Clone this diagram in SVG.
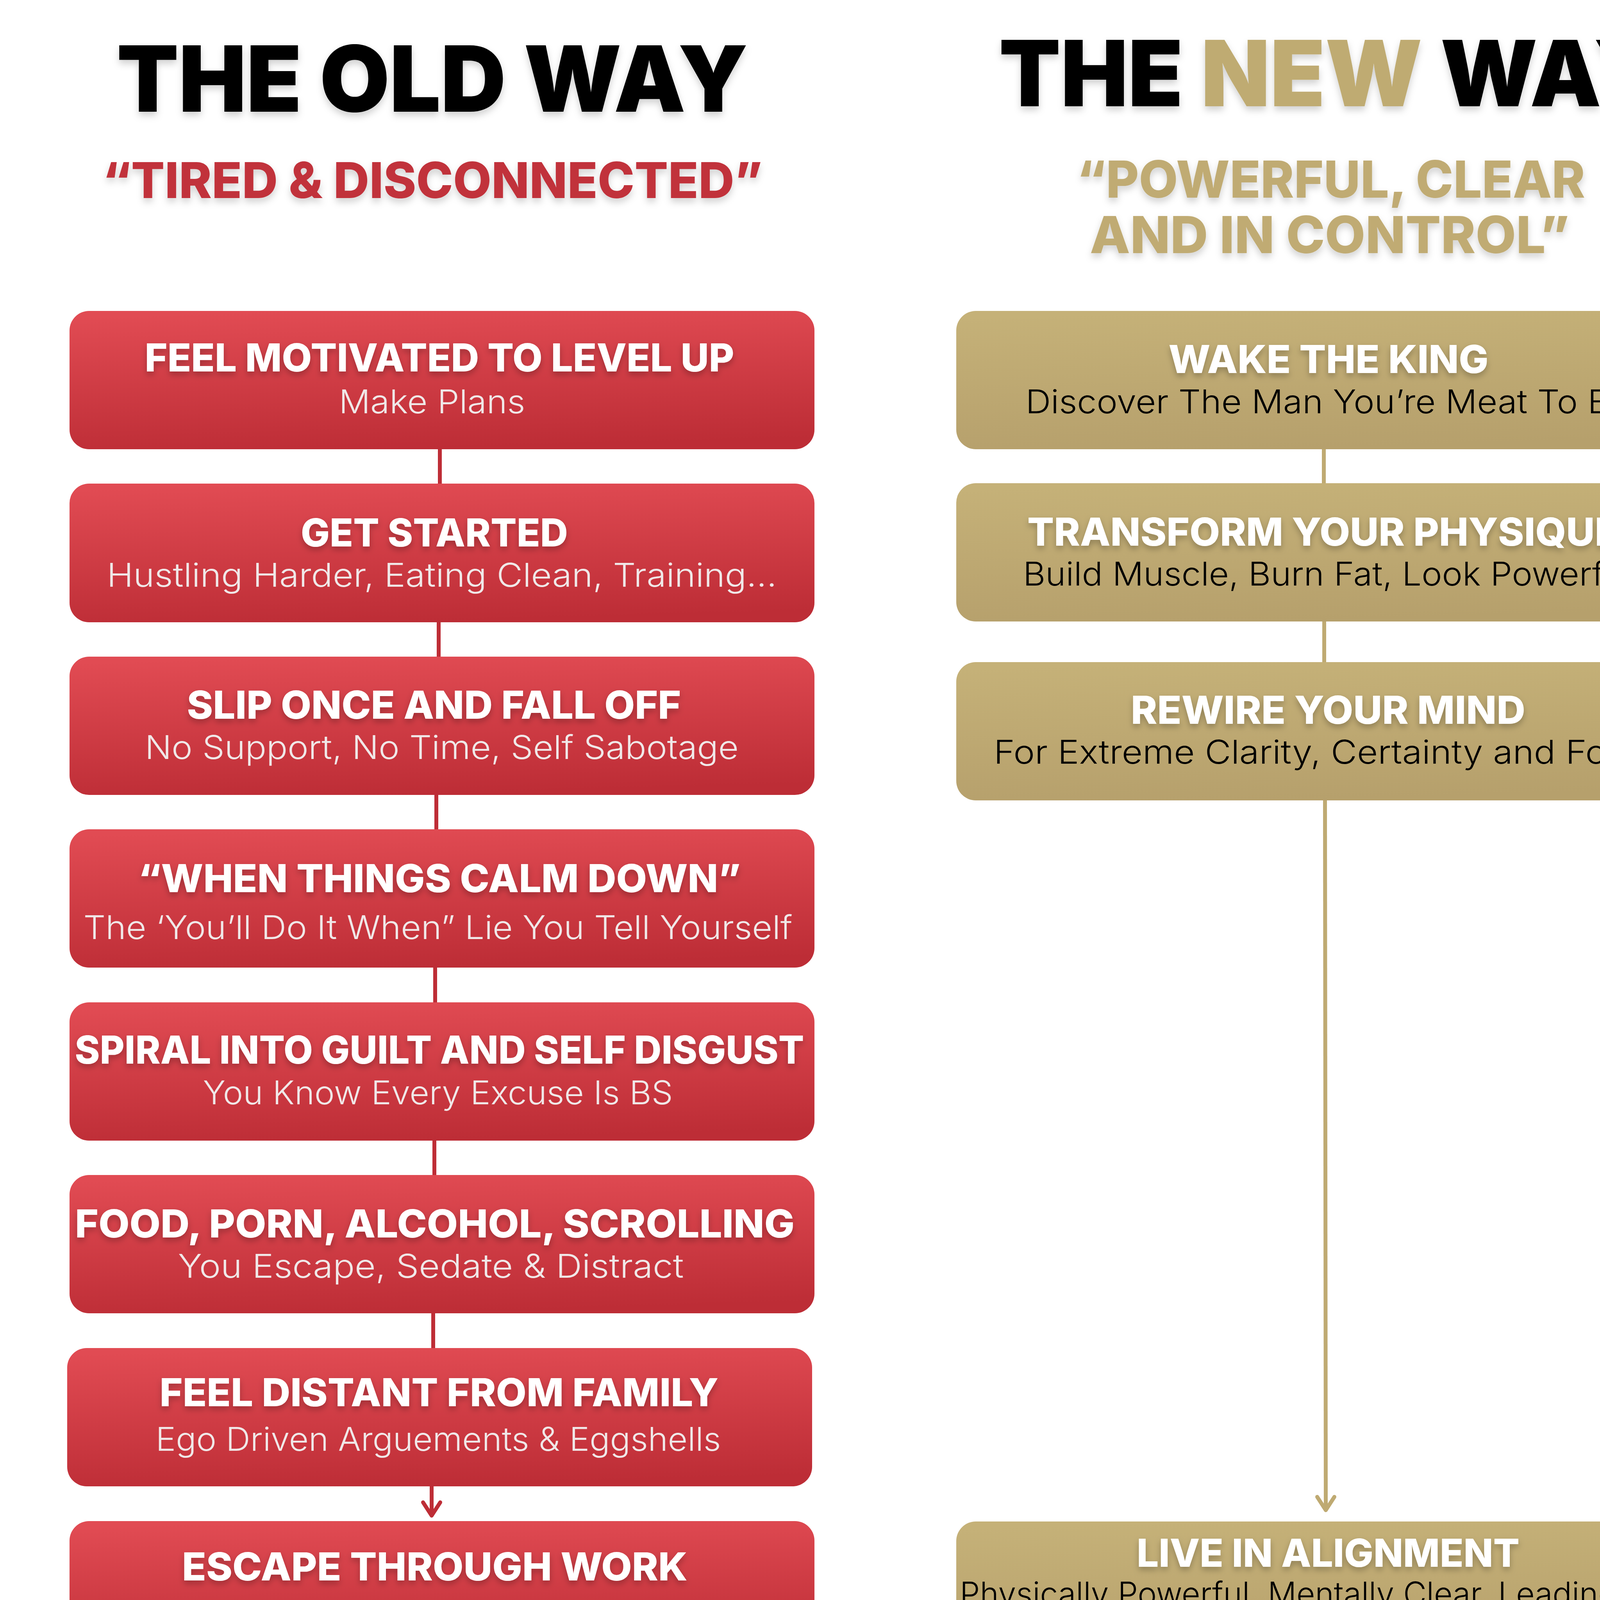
<svg xmlns="http://www.w3.org/2000/svg" width="4531" height="4687" viewBox="0 0 4531 4687">
<defs>
<linearGradient id="gRed" x1="0.3" y1="0" x2="0.45" y2="1">
<stop offset="0" stop-color="#E14B53"/>
<stop offset="1" stop-color="#BD2D36"/>
</linearGradient>
<linearGradient id="gGold" x1="0.3" y1="0" x2="0.45" y2="1">
<stop offset="0" stop-color="#C5B178"/>
<stop offset="1" stop-color="#B6A06C"/>
</linearGradient>
<filter id="tsh" x="-10%" y="-30%" width="120%" height="170%">
<feDropShadow dx="0" dy="8" stdDeviation="8" flood-color="#000" flood-opacity="0.25"/>
</filter>
<filter id="hsh" x="-10%" y="-30%" width="120%" height="170%">
<feDropShadow dx="0" dy="10" stdDeviation="9" flood-color="#000" flood-opacity="0.18"/>
</filter>
<marker id="arRed" markerUnits="userSpaceOnUse" markerWidth="60" markerHeight="60" refX="30" refY="48" orient="auto-start-reverse" viewBox="0 0 60 60">
<path d="M8 12 L30 48 L52 12" fill="none" stroke="#BE2D36" stroke-width="10" stroke-linecap="round" stroke-linejoin="round" transform="rotate(-90 30 30)"/>
</marker>
</defs>
<style>
.head{font-family:Inter,"Liberation Sans",sans-serif;font-weight:900;text-anchor:middle}
.quote{font-family:Inter,"Liberation Sans",sans-serif;font-weight:800;text-anchor:middle}
.bt{font-family:Inter,"Liberation Sans",sans-serif;font-weight:800;font-size:99px;fill:#FFFFFF;text-anchor:middle}
.st{font-family:Inter,"Liberation Sans",sans-serif;font-weight:300;font-size:84px;text-anchor:middle}
.stR{fill:#F0E8E8}
.stG{fill:#000000}
.red{fill:url(#gRed)}
.gold{fill:url(#gGold)}
.cR{stroke:#BE2D36;stroke-width:10;fill:none}
.cG{stroke:#BFAA72;stroke-width:10;fill:none}
</style>
<rect width="4531" height="4687" fill="#FFFFFF"/>

<g id="headings">
<text class="head" x="1107" y="286" font-size="234" fill="#000" textLength="1616" lengthAdjust="spacingAndGlyphs" filter="url(#hsh)">THE OLD WAY</text>
<text class="head" x="3408" y="272" font-size="234" fill="#000" textLength="1701" lengthAdjust="spacingAndGlyphs" filter="url(#hsh)">THE <tspan fill="#BFAB72">NEW</tspan> WAY</text>
<text class="quote" x="1107" y="507" font-size="127" fill="#C1303A" textLength="1690" lengthAdjust="spacingAndGlyphs" filter="url(#hsh)">“TIRED &amp; DISCONNECTED”</text>
<text class="quote" x="3407" y="506" font-size="131" fill="#C0AB73" textLength="1302" lengthAdjust="spacingAndGlyphs" filter="url(#hsh)">“POWERFUL, CLEAR</text>
<text class="quote" x="3404" y="648" font-size="131" fill="#C0AB73" textLength="1228" lengthAdjust="spacingAndGlyphs" filter="url(#hsh)">AND IN CONTROL”</text>
</g>

<g id="connectors">
<line class="cR" x1="1126" y1="1149" x2="1126" y2="1238"/>
<line class="cR" x1="1123" y1="1593" x2="1123" y2="1681"/>
<line class="cR" x1="1117" y1="2035" x2="1117" y2="2123"/>
<line class="cR" x1="1114" y1="2477" x2="1114" y2="2566"/>
<line class="cR" x1="1112" y1="2920" x2="1112" y2="3008"/>
<line class="cR" x1="1109" y1="3362" x2="1109" y2="3451"/>
<line class="cR" x1="1105" y1="3805" x2="1105" y2="3880"/>
<path class="cR" d="M1083 3846 L1105 3880 L1127 3846" stroke-linecap="round" stroke-linejoin="round"/>
<line class="cG" x1="3389" y1="1149" x2="3389" y2="1237"/>
<line class="cG" x1="3390" y1="1591" x2="3390" y2="1695"/>
<line class="cG" x1="3392" y1="2049" x2="3394" y2="3865"/>
<path class="cG" d="M3372 3832 L3394 3866 L3416 3832" stroke-linecap="round" stroke-linejoin="round"/>
</g>

<g id="old1">
<rect class="red" x="178" y="796" width="1907" height="354" rx="50"/>
<text class="bt" x="1125" y="951" textLength="1509" lengthAdjust="spacingAndGlyphs" filter="url(#tsh)">FEEL MOTIVATED TO LEVEL UP</text>
<text class="st stR" x="1106" y="1058" textLength="477" lengthAdjust="spacingAndGlyphs">Make Plans</text>
</g>
<g id="old2">
<rect class="red" x="178" y="1238" width="1907" height="355" rx="50"/>
<text class="bt" x="1112" y="1399" textLength="684" lengthAdjust="spacingAndGlyphs" filter="url(#tsh)">GET STARTED</text>
<text class="st stR" x="1131" y="1502" textLength="1715" lengthAdjust="spacingAndGlyphs">Hustling Harder, Eating Clean, Training...</text>
</g>
<g id="old3">
<rect class="red" x="178" y="1681" width="1907" height="354" rx="50"/>
<text class="bt" x="1111" y="1840" textLength="1265" lengthAdjust="spacingAndGlyphs" filter="url(#tsh)">SLIP ONCE AND FALL OFF</text>
<text class="st stR" x="1131" y="1943" textLength="1520" lengthAdjust="spacingAndGlyphs">No Support, No Time, Self Sabotage</text>
</g>
<g id="old4">
<rect class="red" x="178" y="2123" width="1907" height="354" rx="50"/>
<text class="bt" x="1125" y="2284" textLength="1543" lengthAdjust="spacingAndGlyphs" filter="url(#tsh)">“WHEN THINGS CALM DOWN”</text>
<text class="st stR" x="1121" y="2404" textLength="1815" lengthAdjust="spacingAndGlyphs">The ‘You’ll Do It When” Lie You Tell Yourself</text>
</g>
<g id="old5">
<rect class="red" x="178" y="2566" width="1907" height="354" rx="50"/>
<text class="bt" x="1125" y="2723" textLength="1867" lengthAdjust="spacingAndGlyphs" filter="url(#tsh)">SPIRAL INTO GUILT AND SELF DISGUST</text>
<text class="st stR" x="1121" y="2827" textLength="1203" lengthAdjust="spacingAndGlyphs">You Know Every Excuse Is BS</text>
</g>
<g id="old6">
<rect class="red" x="178" y="3008" width="1907" height="354" rx="50"/>
<text class="bt" x="1113" y="3168" textLength="1842" lengthAdjust="spacingAndGlyphs" filter="url(#tsh)">FOOD, PORN, ALCOHOL, SCROLLING</text>
<text class="st stR" x="1103" y="3271" textLength="1295" lengthAdjust="spacingAndGlyphs">You Escape, Sedate &amp; Distract</text>
</g>
<g id="old7">
<rect class="red" x="172" y="3451" width="1907" height="354" rx="50"/>
<text class="bt" x="1124" y="3600" textLength="1431" lengthAdjust="spacingAndGlyphs" filter="url(#tsh)">FEEL DISTANT FROM FAMILY</text>
<text class="st stR" x="1122" y="3714" textLength="1447" lengthAdjust="spacingAndGlyphs">Ego Driven Arguements &amp; Eggshells</text>
</g>
<g id="old8">
<rect class="red" x="178" y="3894" width="1907" height="353" rx="50"/>
<text class="bt" x="1113" y="4046" textLength="1294" lengthAdjust="spacingAndGlyphs" filter="url(#tsh)">ESCAPE THROUGH WORK</text>
<text class="st stR" x="1102" y="4168" textLength="1117" lengthAdjust="spacingAndGlyphs">Unproductive &amp; Unfulfilled</text>
</g>

<g id="new1">
<rect class="gold" x="2448" y="796" width="1906" height="354" rx="50"/>
<text class="bt" x="3401" y="955" textLength="819" lengthAdjust="spacingAndGlyphs" filter="url(#tsh)">WAKE THE KING</text>
<text class="st stG" x="3400" y="1058" textLength="1549" lengthAdjust="spacingAndGlyphs">Discover The Man You’re Meat To Be</text>
</g>
<g id="new2">
<rect class="gold" x="2448" y="1237" width="1906" height="354" rx="50"/>
<text class="bt" x="3387" y="1397" textLength="1514" lengthAdjust="spacingAndGlyphs" filter="url(#tsh)">TRANSFORM YOUR PHYSIQUE</text>
<text class="st stG" x="3399" y="1499" textLength="1560" lengthAdjust="spacingAndGlyphs">Build Muscle, Burn Fat, Look Powerful</text>
</g>
<g id="new3">
<rect class="gold" x="2448" y="1695" width="1906" height="354" rx="50"/>
<text class="bt" x="3400" y="1853" textLength="1010" lengthAdjust="spacingAndGlyphs" filter="url(#tsh)">REWIRE YOUR MIND</text>
<text class="st stG" x="3405" y="1955" textLength="1722" lengthAdjust="spacingAndGlyphs">For Extreme Clarity, Certainty and Focus</text>
</g>
<g id="new4">
<rect class="gold" x="2448" y="3895" width="1906" height="352" rx="50"/>
<text class="bt" x="3400" y="4011" textLength="980" lengthAdjust="spacingAndGlyphs" filter="url(#tsh)">LIVE IN ALIGNMENT</text>
<text class="st stG" x="3396" y="4110" textLength="1878" lengthAdjust="spacingAndGlyphs">Physically Powerful, Mentally Clear. Leading With</text>
<text class="st stG" x="3397" y="4192" textLength="1195" lengthAdjust="spacingAndGlyphs">Purpose In Business &amp; At Home</text>
</g>
</svg>
